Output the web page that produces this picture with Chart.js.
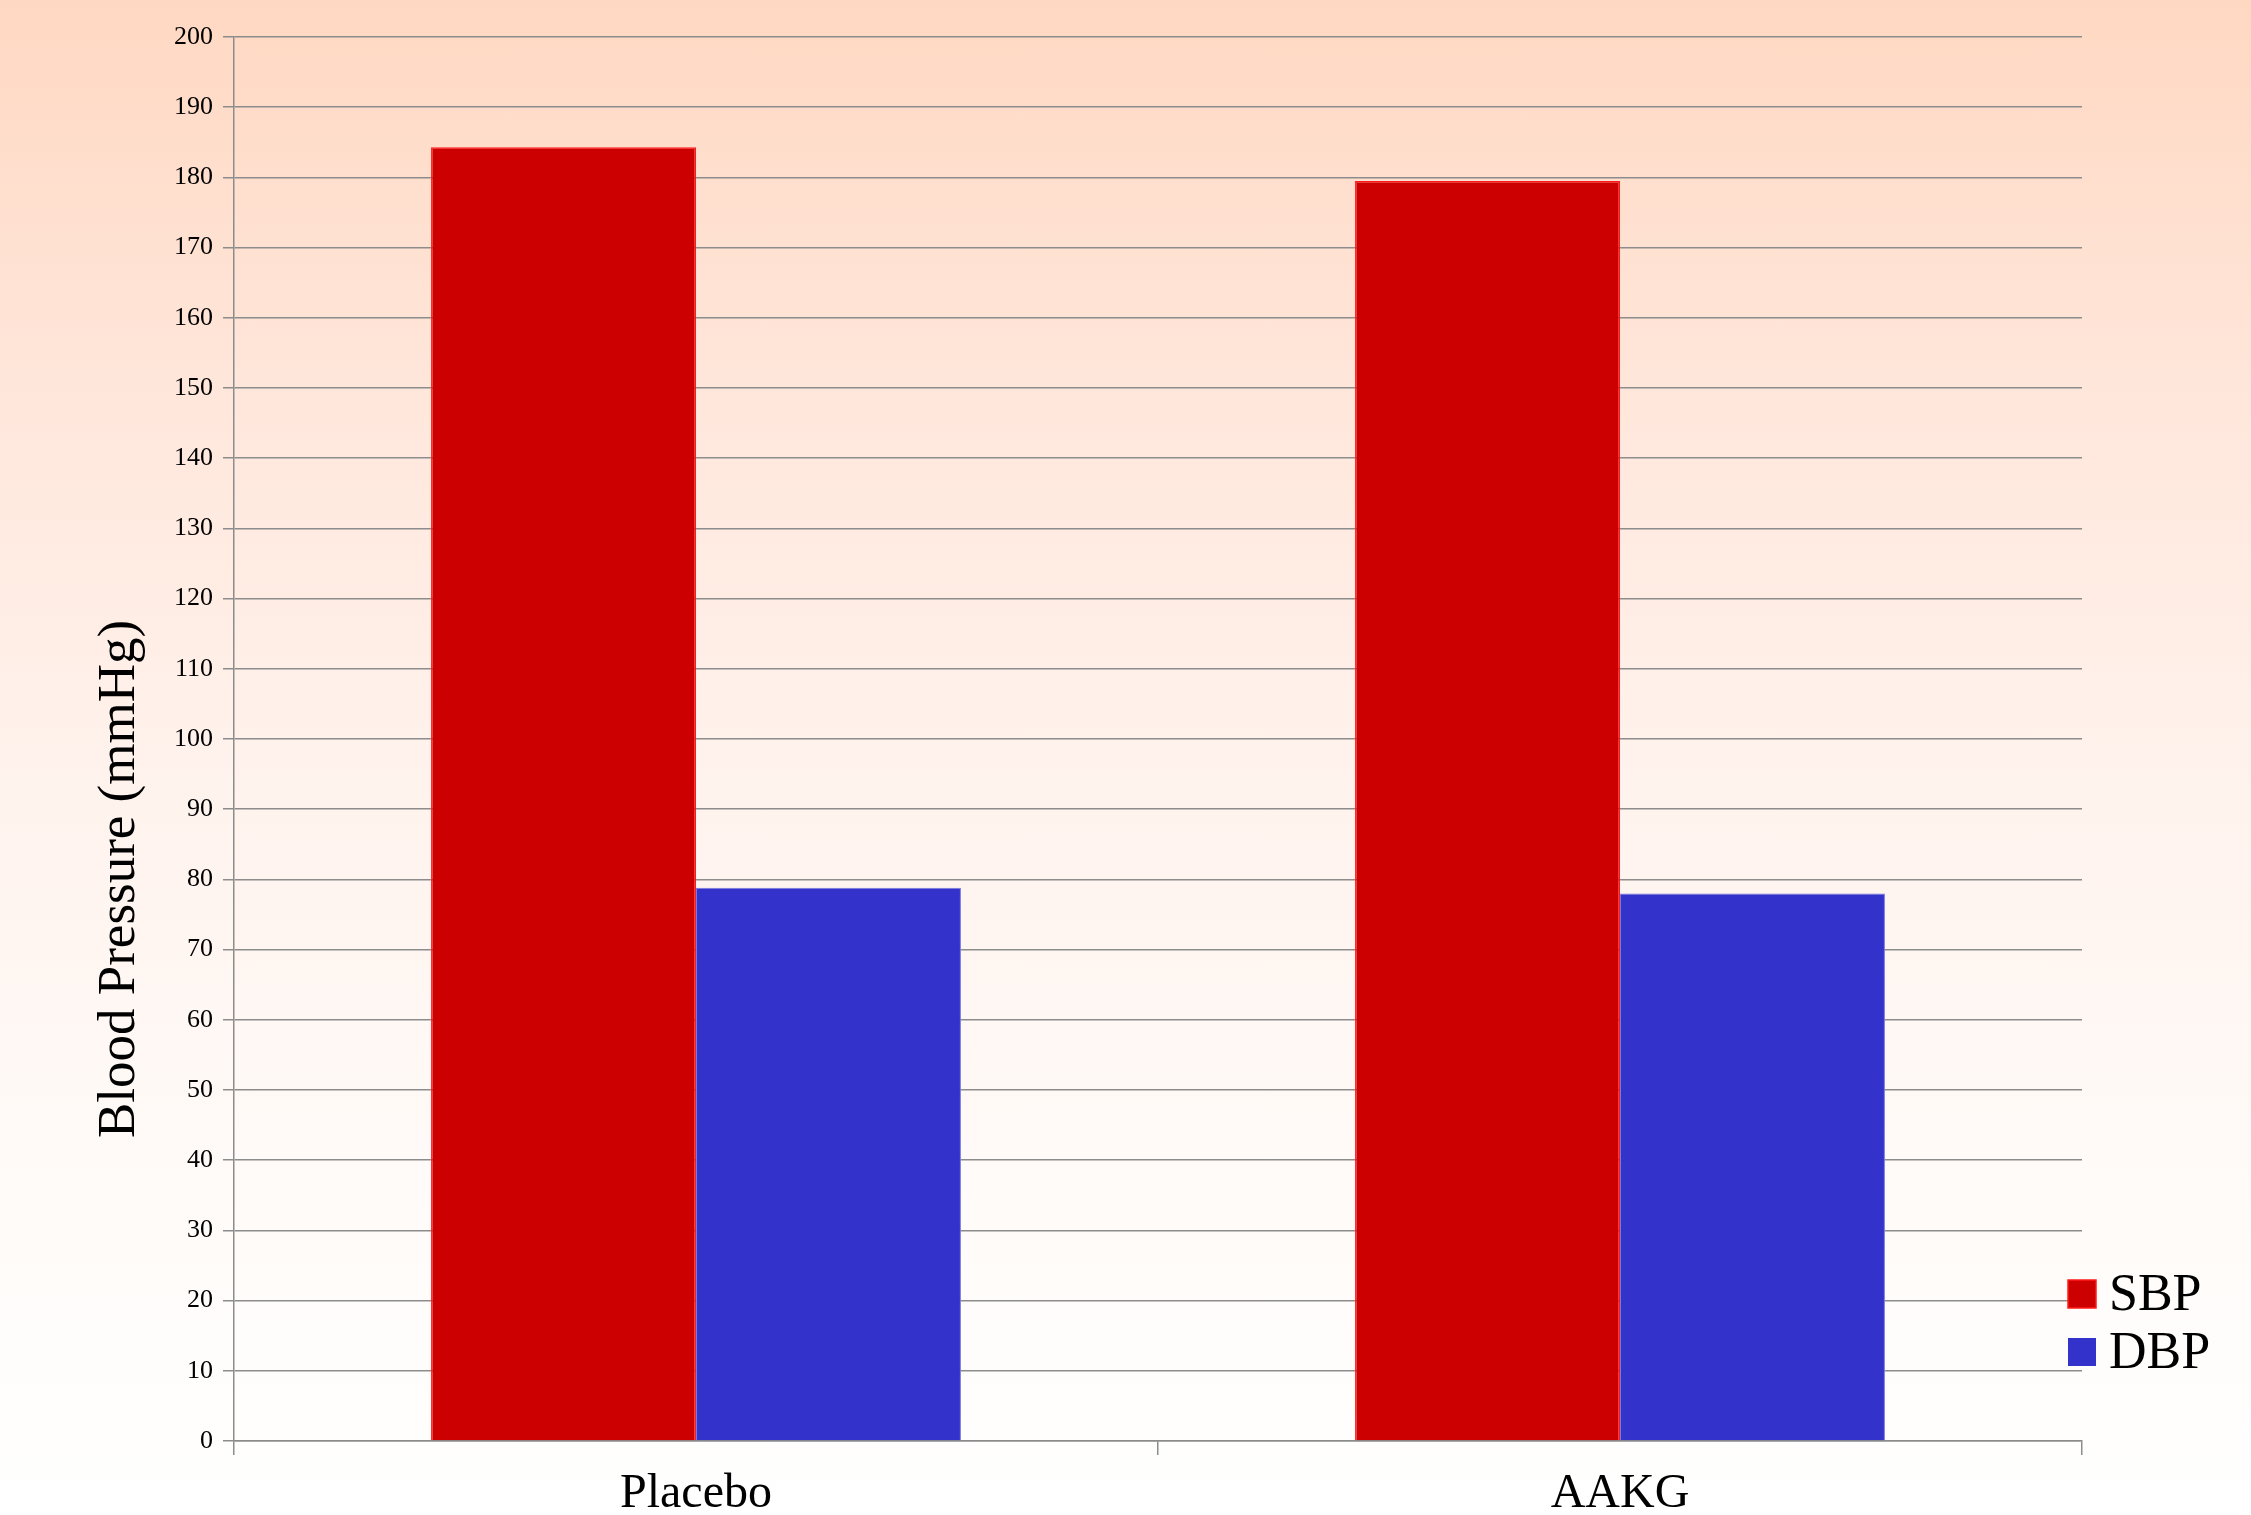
<!DOCTYPE html>
<html>
<head>
<meta charset="utf-8">
<script src="https://cdn.jsdelivr.net/npm/chart.js@4/dist/chart.umd.min.js"></script>
<style>
 html, body { margin: 0; padding: 0; }
 body {
  width: 2251px; height: 1515px; overflow: hidden;
  background: linear-gradient(to bottom, #ffd8c2 0%, #ffe6da 25%, #fff2ec 50%, #fffaf7 75%, #ffffff 100%);
 }
 canvas { display: block; }
</style>
</head>
<body>
<canvas id="bpChart" width="2251" height="1515"></canvas>
<script>
// chart data
const groups = ["Placebo", "AAKG"];
const sbpValues = [184.3, 179.5];
const dbpValues = [78.8, 78.0];
const seriesNames = ["SBP", "DBP"];
const yAxisTitle = "Blood Pressure (mmHg)";
const yMin = 0;
const yMax = 200;
const yStep = 10;

const gridGray = '#8c8c8c';
const serif = "'Liberation Serif', 'Times New Roman', serif";

// y title + legend drawn by hand so they can sit where the original puts them
const extrasPlugin = {
 id: 'extras',
 afterDraw: function (chart) {
  const c = chart.ctx;
  c.save();
  c.fillStyle = '#000';
  c.font = '53px ' + serif;
  c.textAlign = 'center';
  c.textBaseline = 'middle';
  c.translate(120, 879);
  c.rotate(-Math.PI / 2);
  c.fillText(yAxisTitle, 0, 0);
  c.restore();

  c.save();
  c.font = '52px ' + serif;
  c.textBaseline = 'middle';
  chart.data.datasets.forEach(function (ds, i) {
   const y = 1294 + i * 58;
   c.fillStyle = ds.backgroundColor;
   c.fillRect(2068, y - 14, 28, 28);
   if (i === 0) {
    c.strokeStyle = ds.borderColor;
    c.lineWidth = 1.5;
    c.strokeRect(2068, y - 14, 28, 28);
   }
   c.fillStyle = '#000';
   c.fillText(ds.label, 2109, y + 2);
  });
  c.restore();
 }
};

const ctx = document.getElementById('bpChart').getContext('2d');
window.bpChart = new Chart(ctx, {
 type: 'bar',
 data: {
  labels: groups,
  datasets: [
   {
    label: seriesNames[0],
    data: sbpValues,
    backgroundColor: '#cc0000',
    borderColor: '#ff1a1a',
    borderWidth: 1.5,
   },
   {
    label: seriesNames[1],
    data: dbpValues,
    backgroundColor: '#3333cc',
    borderColor: '#7a7ae0',
    borderWidth: 1,
   },
  ],
 },
 options: {
  responsive: false,
  devicePixelRatio: 1,
  animation: false,
  layout: {
   padding: { left: 0, right: 169, top: 37, bottom: 0 }
  },
  datasets: {
   bar: {
    categoryPercentage: 0.5735,
    barPercentage: 1.0,
   }
  },
  plugins: {
   legend: { display: false },
   tooltip: { enabled: false },
  },
  scales: {
   x: {
    afterFit: function (scale) { scale.height = 74; },
    grid: {
     offset: true,
     drawOnChartArea: false,
     drawTicks: true,
     tickLength: 14,
     color: gridGray,
     lineWidth: 1.5,
    },
    border: { display: true, color: gridGray, width: 1.5 },
    ticks: {
     color: '#000',
     padding: 11,
     font: { family: serif, size: 48 },
    },
   },
   y: {
    min: yMin,
    max: yMax,
    afterFit: function (scale) { scale.width = 234; },
    grid: {
     color: gridGray,
     lineWidth: 1.5,
     tickLength: 11,
    },
    border: { display: true, color: gridGray, width: 1.5 },
    ticks: {
     stepSize: yStep,
     color: '#000',
     padding: 10,
     font: { family: serif, size: 26 },
    },
   },
  },
 },
 plugins: [extrasPlugin],
});
</script>
</body>
</html>
